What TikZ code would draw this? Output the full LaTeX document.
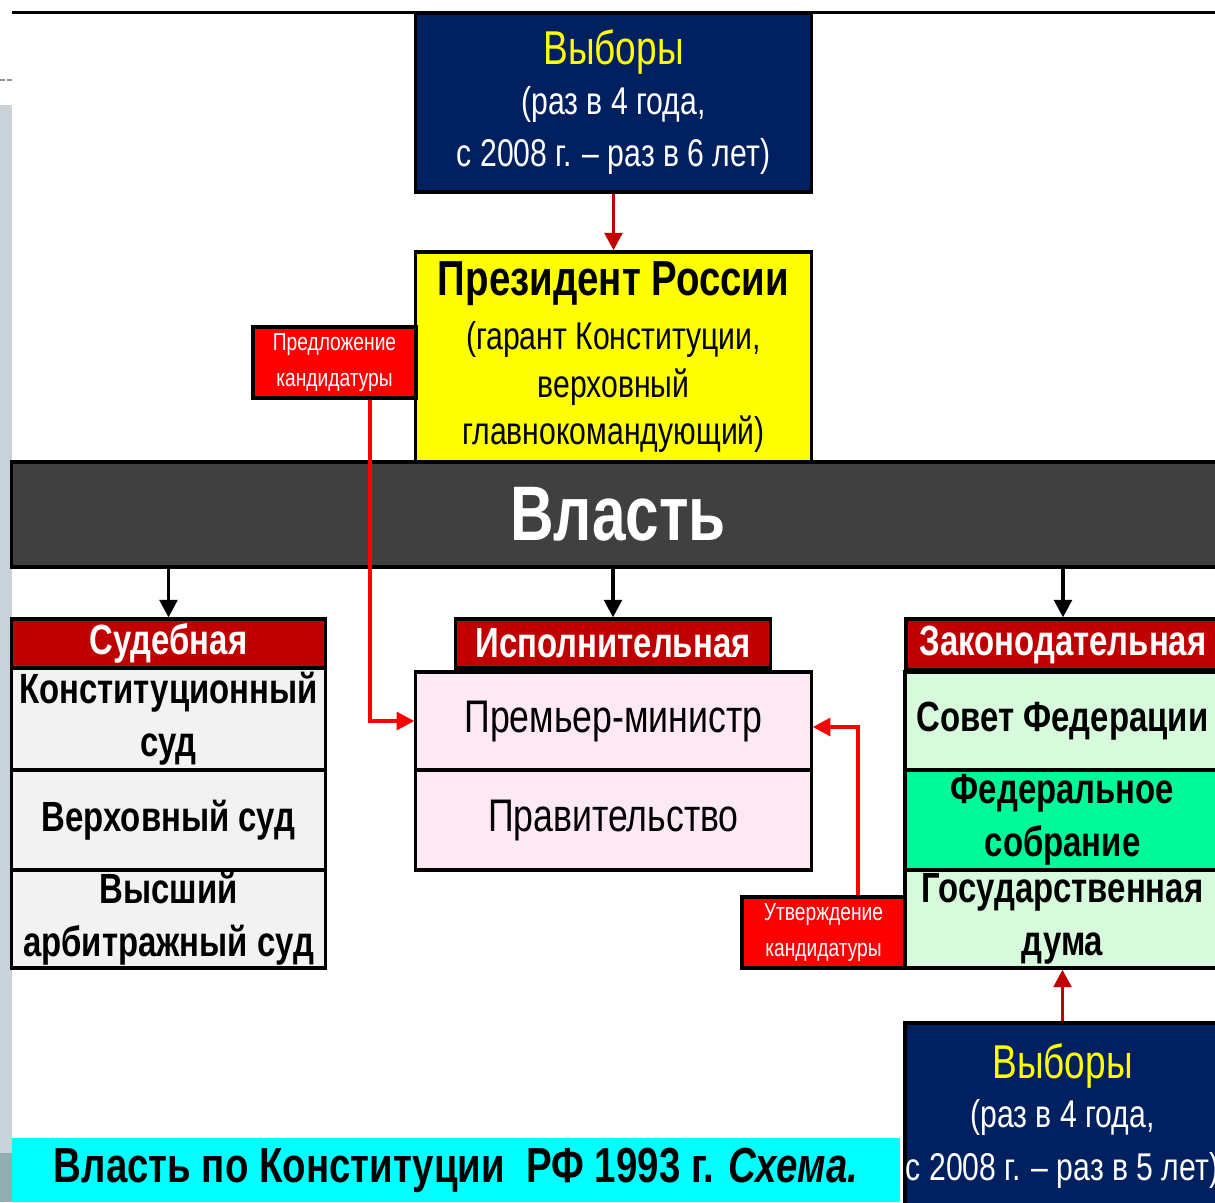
\documentclass[tikz,border=0pt]{standalone}
\usepackage{fontspec}
\setmainfont{Liberation Sans}[FakeStretch=0.78]
\usetikzlibrary{positioning, calc, arrows.meta}

\definecolor{navybox}{RGB}{0,32,96}
\definecolor{headred}{RGB}{192,0,0}
\definecolor{bargray}{RGB}{64,64,64}
\definecolor{pinkbox}{RGB}{253,233,243}
\definecolor{mintbox}{RGB}{214,250,219}
\definecolor{greenbox}{RGB}{0,250,154}
\definecolor{lightbox}{RGB}{242,242,242}
\definecolor{capcyan}{RGB}{0,255,255}
\definecolor{pureyellow}{RGB}{255,255,0}
\definecolor{purered}{RGB}{255,0,0}
\definecolor{stripgray}{RGB}{200,210,216}
\definecolor{stripdark}{RGB}{144,174,174}

\tikzset{
    box/.style={draw=black, line width=0.9pt, inner sep=0pt, align=center},
    headbox/.style={box, fill=headred, text=white, font=\bfseries\fontsize{12}{14}\selectfont},
    tagbox/.style={box, fill=purered, text=white, minimum width=1.63cm, minimum height=0.71cm,
        font=\fontsize{7}{10}\selectfont},
    blackarr/.style={-{Triangle[length=5pt,width=5pt]}, line width=1.1pt},
    redarr/.style={-{Triangle[length=5pt,width=5pt]}, line width=1.1pt, purered},
    darkarr/.style={-{Triangle[length=5pt,width=5pt]}, line width=1.1pt, headred},
}

\begin{document}
\begin{tikzpicture}[x=0.01cm, y=-0.01cm]
    \useasboundingbox (0,0) rectangle (1215,1202);

    % полоса слева и верхняя линия
    \fill[stripgray] (0,105) rectangle (12,1153);
    \fill[stripdark] (0,1153) rectangle (12,1202);
    \fill[stripgray!70!black] (0,79) rectangle (5,81);
    \fill[stripgray!70!black] (7,79) rectangle (12,81);
    \draw[line width=1pt] (12,12.5) -- (1215,12.5);

    % выборы президента
    \node[box, fill=navybox, text=white, minimum width=3.95cm, minimum height=1.79cm,
        font=\fontsize{11}{14}\selectfont] (vyborP) at (613.5,102.5)
        {{\color{pureyellow}\fontsize{13.5}{15}\selectfont Выборы}\\[0pt]
         (раз в 4 года,\\[1pt] с 2008 г. – раз в 6 лет)};

    % президент
    \node[box, fill=pureyellow, minimum width=3.95cm, minimum height=2.10cm,
        font=\fontsize{11}{13.5}\selectfont] (pres) at (613.5,357)
        {{\bfseries\fontsize{14}{16}\selectfont Президент России}\\[2pt]
         (гарант Конституции,\\ верховный\\ главнокомандующий)};
    \node[tagbox] (predl) at (334.5,362.5) {Предложение\\ кандидатуры};

    % власть
    \node[box, fill=bargray, text=white, minimum width=12.12cm, minimum height=1.05cm,
        font=\bfseries\fontsize{22}{24}\selectfont] (vlast) at (618,514.5) {Власть};

    % судебная
    \node[headbox, minimum width=3.13cm, minimum height=0.49cm] (sud) at (168.5,643.5) {Судебная};
    \node[box, fill=lightbox, minimum width=3.13cm, minimum height=1.02cm,
        font=\bfseries\fontsize{12}{15}\selectfont] (konst) at (168.5,719) {Конституционный\\ суд};
    \node[box, fill=lightbox, minimum width=3.13cm, minimum height=1.00cm,
        font=\bfseries\fontsize{12}{15}\selectfont] (verh) at (168.5,820) {Верховный суд};
    \node[box, fill=lightbox, minimum width=3.13cm, minimum height=0.98cm,
        font=\bfseries\fontsize{12}{15}\selectfont] (arb) at (168.5,919) {Высший\\ арбитражный суд};

    % исполнительная
    \node[headbox, minimum width=3.14cm, minimum height=0.49cm] (isp) at (613,643.5) {Исполнительная};
    \node[box, fill=pinkbox, minimum width=3.95cm, minimum height=0.98cm,
        font=\fontsize{13}{15}\selectfont] (prem) at (613.5,721) {Премьер-министр};
    \node[box, fill=pinkbox, minimum width=3.95cm, minimum height=1.00cm,
        font=\fontsize{13}{15}\selectfont] (prav) at (613.5,820) {Правительство};

    % законодательная
    \node[headbox, minimum width=3.14cm, minimum height=0.51cm] (zak) at (1063,644.5) {Законодательная};
    \node[box, fill=mintbox, minimum width=3.15cm, minimum height=0.98cm,
        font=\bfseries\fontsize{12}{15}\selectfont] (sovet) at (1062.5,721) {Совет Федерации};
    \node[box, fill=greenbox, minimum width=3.15cm, minimum height=1.00cm,
        font=\bfseries\fontsize{12}{15}\selectfont] (fedsob) at (1062.5,820) {Федеральное\\ собрание};
    \node[box, fill=mintbox, minimum width=3.15cm, minimum height=0.98cm,
        font=\bfseries\fontsize{12}{15}\selectfont] (duma) at (1062.5,919) {Государственная\\ дума};
    \node[tagbox] (utv) at (823.5,932.5) {Утверждение\\ кандидатуры};

    % выборы думы
    \node[box, fill=navybox, text=white, minimum width=3.15cm, minimum height=1.86cm,
        font=\fontsize{11}{14}\selectfont] (vyborD) at (1062.5,1116)
        {{\color{pureyellow}\fontsize{13.5}{15}\selectfont Выборы}\\[0pt]
         (раз в 4 года,\\[1pt] с 2008 г. – раз в 5 лет)};

    % подпись
    \node[fill=capcyan, inner sep=0pt, minimum width=8.88cm, minimum height=0.64cm,
        font=\bfseries\fontsize{14}{16}\selectfont] (caption) at (456,1170)
        {Власть по Конституции~~РФ 1993 г. \textit{Схема.}};

    % стрелки
    \draw[darkarr] (vyborP) -- (pres);
    \draw[blackarr] (vlast.south -| sud.north) -- (sud.north);
    \draw[blackarr] (vlast.south -| isp.north) -- (isp.north);
    \draw[blackarr] (vlast.south -| zak.north) -- (zak.north);
    \draw[redarr] ([xshift=0.355cm]predl.south) |- (prem.west);
    \draw[redarr] ([xshift=0.345cm]utv.north) |- ([yshift=-0.06cm]prem.east);
    \draw[darkarr] (vyborD) -- (duma);

\end{tikzpicture}
\end{document}
